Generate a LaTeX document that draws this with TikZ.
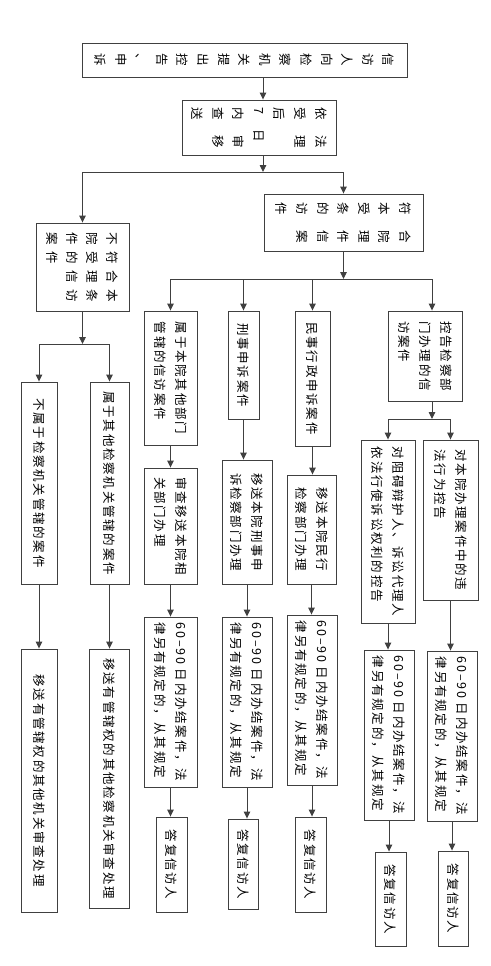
\documentclass[tikz,border=0pt]{standalone}
\usepackage{fontspec}
\setmainfont{Noto Sans CJK SC}
\usetikzlibrary{arrows.meta}
\tikzset{
  base/.style={draw=black!75, line width=0.9pt, rotate=-90, inner sep=2pt, align=left},
  box/.style={base, font=\fontsize{12.5}{21}\selectfont\addfontfeatures{LetterSpace=14}},
  topbox/.style={base, font=\fontsize{12.5}{20.6}\selectfont},
  midbox/.style={base, font=\fontsize{12.5}{20}\selectfont\addfontfeatures{LetterSpace=52}},
  arr/.style={draw=black!75, line width=0.9pt, -{Triangle[length=7pt,width=6.5pt]}}
}
\newcommand{\gapp}{\hspace{15pt}}
\begin{document}
\begin{tikzpicture}[x=1pt,y=-1pt]
\useasboundingbox (0,0) rectangle (490,966);
\fill[white] (0,0) rectangle (490,966);

% top part
\node[topbox, minimum width=34pt, minimum height=325pt] (A) at (244.5,60)
  {信\\访\\人\\向\\检\\察\\机\\关\\提\\出\\控\\告\\、\\申\\诉};
\node[topbox, minimum width=55pt, minimum height=154pt] (B) at (259,127.5)
  {依\gapp 法\\受\gapp 理\\后\\7\gapp 日\\内\gapp 审\\查\gapp 移\\送};
\node[topbox, minimum width=57pt, minimum height=159pt] (C) at (343.5,222.5)
  {符\gapp 合\\本\gapp 院\\受\gapp 理\\条\gapp 件\\的\gapp 信\\访\gapp 案\\件};
\node[midbox, minimum width=88pt, minimum height=93pt] (D) at (82.5,267)
  {不符合本\\院受理条\\件的信访\\案件};

% second level
\node[box, minimum width=134pt, minimum height=53pt] (E1) at (170.5,378) {属于本院其他部门\\管辖的信访案件};
\node[box, minimum width=108pt, minimum height=31pt] (E2) at (243.5,365) {刑事申诉案件};
\node[box, minimum width=135pt, minimum height=35pt] (E3) at (312.5,378.5) {民事行政申诉案件};
\node[box, minimum width=90pt, minimum height=74pt] (E4) at (425.5,356) {控告检察部\\门办理的信\\访案件};

\node[box, minimum width=202pt, minimum height=36pt] (F1) at (39,483) {不属于检察机关管辖的案件};
\node[box, minimum width=202pt, minimum height=39pt] (F2) at (109.5,483) {属于其他检察机关管辖的案件};
\node[box, minimum width=263pt, minimum height=36pt] (G1) at (39,780.5) {移送有管辖权的其他机关审查处理};
\node[box, minimum width=259pt, minimum height=40pt] (G2) at (109,778.5) {移送有管辖权的其他检察机关审查处理};

\node[box, minimum width=116pt, minimum height=53pt] (H1) at (170.5,526) {审查移送本院相\\关部门办理};
\node[box, minimum width=124pt, minimum height=50pt] (H2) at (247,522) {移送本院刑事申\\诉检察部门办理};
\node[box, minimum width=109pt, minimum height=49pt] (H3) at (311.5,529.5) {移送本院民行\\检察部门办理};

\node[box, minimum width=183pt, minimum height=54pt] (I1) at (388,531.5) {对阻碍辩护人、诉讼代理人\\依法行使诉讼权利的控告};
\node[box, minimum width=160pt, minimum height=55pt] (I2) at (450.5,520) {对本院办理案件中的违\\法行为控告};

\node[box, minimum width=170pt, minimum height=53pt] (K1) at (170.5,702) {60–90 日内办结案件，法\\律另有规定的，从其规定};
\node[box, minimum width=170pt, minimum height=50pt] (K2) at (247,702) {60–90 日内办结案件，法\\律另有规定的，从其规定};
\node[box, minimum width=170pt, minimum height=50pt] (K3) at (312,700) {60–90 日内办结案件，法\\律另有规定的，从其规定};
\node[box, minimum width=170pt, minimum height=50pt] (J1) at (389,735) {60–90 日内办结案件，法\\律另有规定的，从其规定};
\node[box, minimum width=170pt, minimum height=50pt] (J2) at (452,736) {60–90 日内办结案件，法\\律另有规定的，从其规定};

\node[box, minimum width=95pt, minimum height=31pt] (L1) at (171.5,864.5) {答复信访人};
\node[box, minimum width=90pt, minimum height=30pt] (L2) at (243,864) {答复信访人};
\node[box, minimum width=95pt, minimum height=31pt] (L3) at (310.5,864.5) {答复信访人};
\node[box, minimum width=94pt, minimum height=31pt] (M1) at (390.5,899) {答复信访人};
\node[box, minimum width=95pt, minimum height=30pt] (M2) at (453,898.5) {答复信访人};

% junctions
\coordinate (ab) at (263,0);
\coordinate (j1) at (263,172);
\coordinate (j2) at (343.5,279);
\coordinate (j3) at (82.5,344);
\coordinate (j4) at (432,419);

\draw[arr] (A.east -| ab) -- (B.west -| ab);
\draw[arr] (B.east -| ab) -- (j1);
\draw[arr] (j1) -| (C.west);
\draw[arr] (j1) -| (D.west);
\draw[arr] (C.east) -- (j2);
\draw[arr] (j2) -| (E1.west);
\draw[arr] (j2) -| (E2.west);
\draw[arr] (j2) -| (E3.west);
\draw[arr] (j2) -| (E4.west -| j4);
\draw[arr] (D.east) -- (j3);
\draw[arr] (j3) -| (F1.west);
\draw[arr] (j3) -| (F2.west);
\draw[arr] (E4.east -| j4) -- (j4);
\draw[arr] (j4) -| (I1.west);
\draw[arr] (j4) -| (I2.west);

\foreach \a/\b in {E1/H1, H1/K1, K1/L1, E2/H2, H2/K2, K2/L2, E3/H3, H3/K3, K3/L3,
                   I1/J1, J1/M1, I2/J2, J2/M2, F1/G1, F2/G2}
  \draw[arr] (\a.east) -- (\a.east |- \b.west);
\end{tikzpicture}
\end{document}
